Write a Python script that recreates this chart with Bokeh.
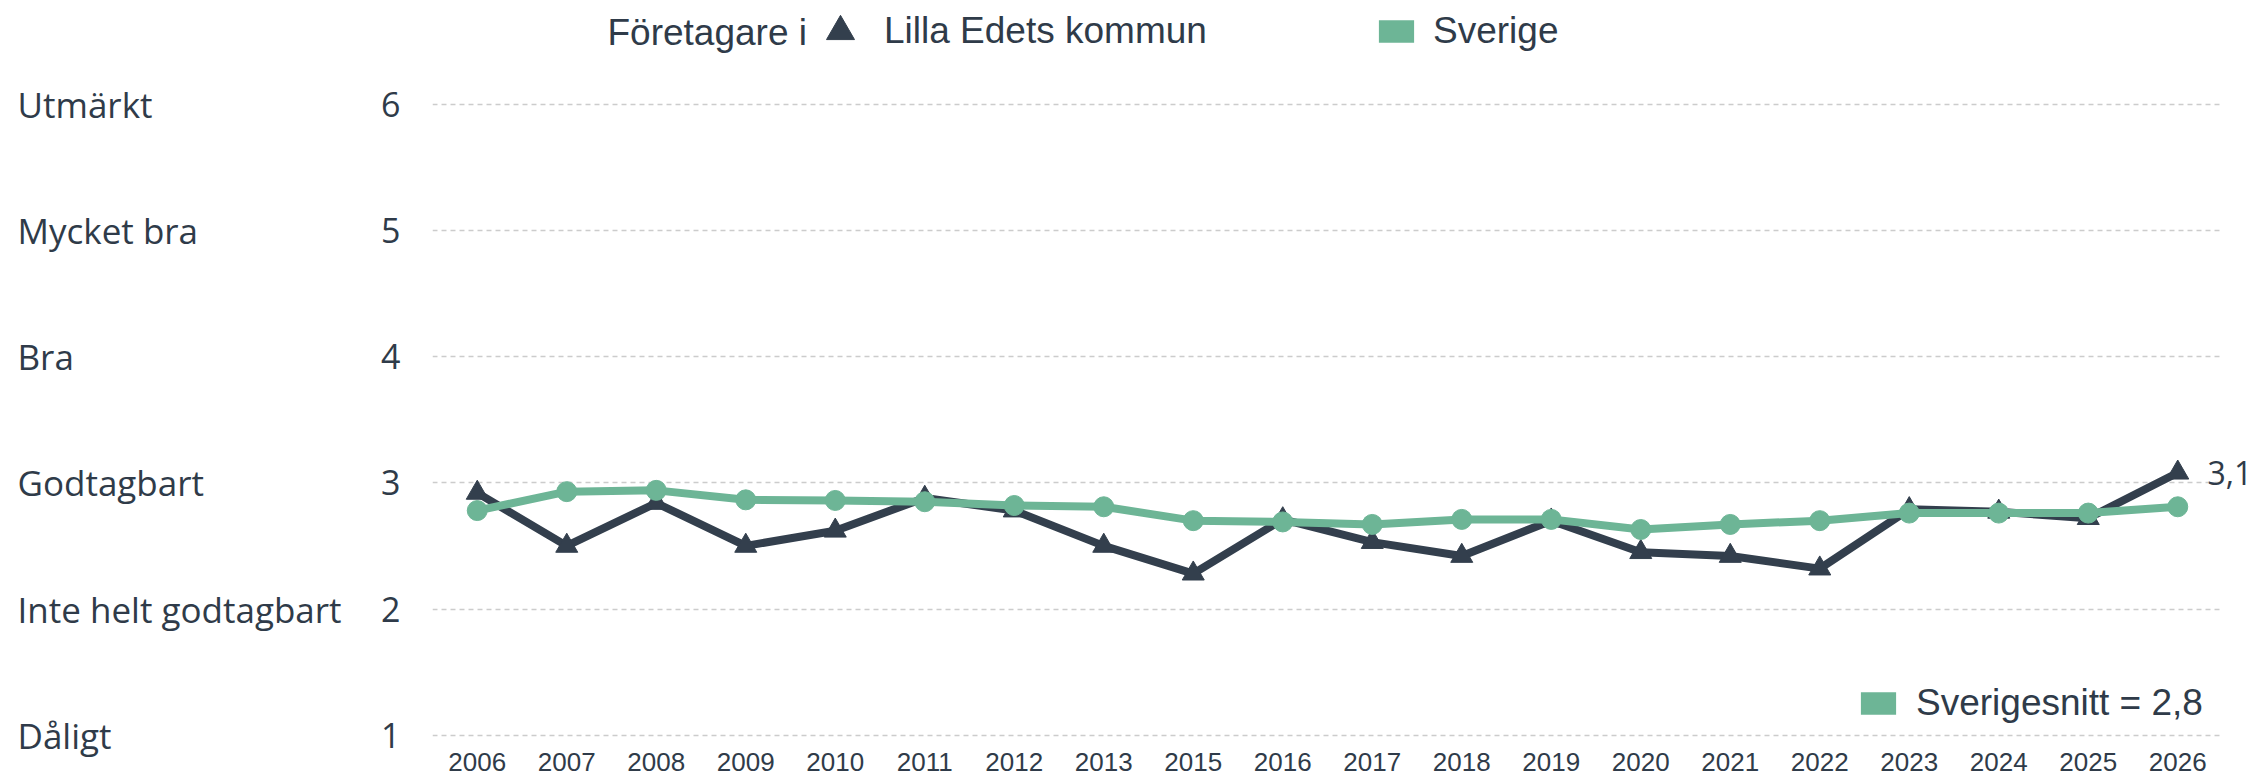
from bokeh.plotting import figure
from bokeh.layouts import row
from bokeh.models import (FactorRange, Range1d, Legend, LegendItem, Label, LabelSet,
                          ColumnDataSource, FixedTicker, LinearAxis)
from bokeh.embed import file_html
from bokeh.resources import INLINE
from bokeh.core.properties import value

# ---------------- data ----------------
years = ["2006", "2007", "2008", "2009", "2010", "2011", "2012", "2013", "2015", "2016",
         "2017", "2018", "2019", "2020", "2021", "2022", "2023", "2024", "2025", "2026"]
lilla_edet = [2.92, 2.50, 2.84, 2.50, 2.62, 2.88, 2.78, 2.50, 2.28, 2.71,
              2.53, 2.42, 2.70, 2.45, 2.42, 2.32, 2.79, 2.77, 2.72, 3.08]
sverige = [2.78, 2.93, 2.94, 2.865, 2.86, 2.85, 2.82, 2.81, 2.70, 2.69,
           2.67, 2.71, 2.71, 2.63, 2.67, 2.70, 2.76, 2.76, 2.76, 2.81]
sverige_avg = 2.8
levels = [1, 2, 3, 4, 5, 6]
level_names = ["Dåligt", "Inte helt godtagbart", "Godtagbart", "Bra", "Mycket bra", "Utmärkt"]
legend_prefix = "Företagare i"
series_names = ["Lilla Edets kommun", "Sverige"]


def sv_num(v):
    return f"{v:.1f}".replace(".", ",")


# ---------------- layout / style constants ----------------
DARK = "#333f4d"
GREEN = "#6db596"
TEXT = "#2f3b49"
GRID = "#cccccc"
W, H = 2257, 779
NW = 370                      # width of the level-name column
FRAME_L, FRAME_R = 432, 2222  # plot frame in page px
FRAME_B = H
PX_UNIT = 126.2               # px per score unit
Y1_PX, Y6_PX = 734.7, 103.7
yr = Range1d(1 - (FRAME_B - Y1_PX) / PX_UNIT, 6 + Y6_PX / PX_UNIT)
LEG_FONT = "Liberation Sans"
AX_FONT = "Open Sans"
TOP_DY = 2.5

# ---------------- level-name column ----------------
pn = figure(width=NW, height=H, x_range=Range1d(0, NW), y_range=yr,
            x_axis_location=None, y_axis_location=None,
            output_backend="svg", toolbar_location=None,
            min_border_left=0, min_border_right=0, min_border_top=0, min_border_bottom=0)
pn.outline_line_color = None
pn.grid.grid_line_color = None
lvl_src = ColumnDataSource(dict(y=levels, name=level_names))
pn.text(x=17, y="y", text="name", source=lvl_src, text_font=value(AX_FONT),
        text_font_size="35px", text_color=TEXT, text_baseline="middle", text_align="left")

# ---------------- main chart ----------------
p = figure(width=W - NW, height=H, x_range=FactorRange(*years), y_range=yr,
           x_axis_location=None, output_backend="svg", toolbar_location=None,
           min_border_left=FRAME_L - NW, min_border_right=W - FRAME_R,
           min_border_top=0, min_border_bottom=0)
p.outline_line_color = None
p.xgrid.grid_line_color = None

left_ax = p.yaxis[0]
left_ax.ticker = FixedTicker(ticks=levels)
p.ygrid.ticker = FixedTicker(ticks=levels)
p.ygrid.grid_line_color = GRID
p.ygrid.grid_line_dash = "5 4"
p.ygrid.grid_line_width = 1.5

left_ax.axis_line_color = None
left_ax.major_tick_line_color = None
left_ax.minor_tick_line_color = None
left_ax.major_tick_out = 0
left_ax.major_tick_in = 0
left_ax.major_label_text_font = AX_FONT
left_ax.major_label_text_font_size = "34px"
left_ax.major_label_text_color = TEXT
left_ax.major_label_standoff = 32

# latest value on the right
last = lilla_edet[-1]
right_ax = LinearAxis(ticker=FixedTicker(ticks=[last]),
                      major_label_overrides={last: sv_num(last)},
                      axis_line_color=None, major_tick_line_color=None,
                      minor_tick_line_color=None, major_tick_out=0, major_tick_in=0,
                      major_label_standoff=-15, major_label_text_font=AX_FONT,
                      major_label_text_font_size="32px", major_label_text_color=TEXT)
p.add_layout(right_ax, "right")

# series
src = ColumnDataSource(dict(x=years, le=lilla_edet, sv=sverige))
p.line("x", "le", source=src, line_color=DARK, line_width=8, line_join="round")
tri = p.scatter("x", "le", source=src, marker="triangle", size=22, fill_color=DARK,
                line_color=DARK, line_width=1)
p.line("x", "sv", source=src, line_color=GREEN, line_width=8, line_join="round")
p.scatter("x", "sv", source=src, marker="circle", size=20, fill_color=GREEN, line_color=GREEN)
# swatch renderer (zero-size rects, only used for the legend)
swatch = p.rect("x", "sv", width=0, height=0, source=src, fill_color=GREEN, line_color=None)

# year labels under the plot area, placed by the categorical x scale
p.add_layout(LabelSet(x="x", y=18, y_units="screen", text="x", source=src,
                      text_font=value(LEG_FONT), text_font_size="26px", text_color=TEXT,
                      text_align="center", text_baseline="middle"))

# top legend
p.add_layout(Label(x=607 - FRAME_L, y=FRAME_B - 29 - TOP_DY, x_units="screen", y_units="screen",
                   text=legend_prefix, text_font=LEG_FONT, text_font_size="37px",
                   text_color=TEXT, text_baseline="middle", text_align="left"))
common = dict(padding=0, margin=0, border_line_color=None, background_fill_alpha=0,
              label_text_font=LEG_FONT, label_text_font_size="37px",
              label_text_color=TEXT, label_height=42)
legA = Legend(items=[LegendItem(label=series_names[0], renderers=[tri])],
              location=(805 - FRAME_L, FRAME_B - 63 - TOP_DY), glyph_width=70, glyph_height=70,
              label_standoff=9, **common)
legB = Legend(items=[LegendItem(label=series_names[1], renderers=[swatch])],
              location=(1374 - FRAME_L, FRAME_B - 49 - TOP_DY), glyph_width=44, glyph_height=28,
              label_standoff=15, **common)
legC = Legend(items=[LegendItem(label=f"Sverigesnitt = {sv_num(sverige_avg)}", renderers=[swatch])],
              location=(1856 - FRAME_L, FRAME_B - 724), glyph_width=44, glyph_height=28,
              label_standoff=16, **common)
for lg in (legA, legB, legC):
    p.add_layout(lg)

layout = row(pn, p)
open("out.html", "w").write(file_html(layout, INLINE))
